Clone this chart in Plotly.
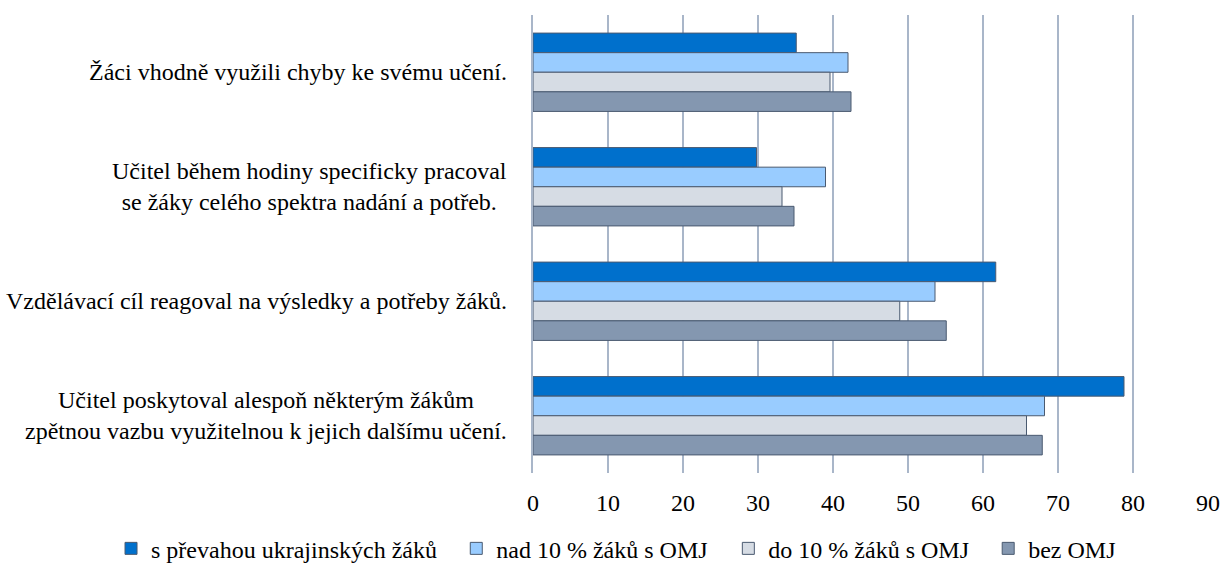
import plotly.graph_objects as go

categories = [
    "Žáci vhodně využili chyby ke svému učení.",
    "Učitel během hodiny specificky pracoval<br>se žáky celého spektra nadání a potřeb.",
    "Vzdělávací cíl reagoval na výsledky a potřeby žáků.",
    "Učitel poskytoval alespoň některým žákům<br>zpětnou vazbu využitelnou k jejich dalšímu učení.",
]
series_names = [
    "s převahou ukrajinských žáků",
    "nad 10 % žáků s OMJ",
    "do 10 % žáků s OMJ",
    "bez OMJ",
]
values_ukr = [35.1, 29.8, 61.7, 78.8]
values_nad10 = [42.0, 39.0, 53.6, 68.2]
values_do10 = [39.6, 33.2, 48.9, 65.8]
values_bez = [42.4, 34.8, 55.1, 67.9]
colors = ["#0070CC", "#99CCFF", "#D6DCE4", "#8497B0"]
tick_vals = [0, 10, 20, 30, 40, 50, 60, 70, 80, 90]

all_values = [values_ukr, values_nad10, values_do10, values_bez]
legend_ids = ["legend", "legend2", "legend3", "legend4"]
legend_x = [0.091, 0.374, 0.597, 0.810]

FONT = "Liberation Serif"

fig = go.Figure()
for name, vals, col, lid in zip(series_names, all_values, colors, legend_ids):
    fig.add_trace(go.Bar(
        y=categories, x=vals, name=name, orientation="h", legend=lid,
        marker=dict(color=col, line=dict(color="#4A5A70", width=1)),
    ))

for cat in categories:
    fig.add_annotation(
        x=0, xref="paper", y=cat, yref="y", text=cat, showarrow=False,
        xanchor="right", yanchor="middle", align="center", xshift=-24,
        font=dict(family=FONT, size=24, color="#000000"),
    )

legend_common = dict(orientation="h", xref="container", yref="container", y=0.027,
                     xanchor="left", yanchor="middle",
                     font=dict(family=FONT, size=24, color="#000000"),
                     itemwidth=30, bgcolor="rgba(0,0,0,0)")

fig.update_layout(
    width=1220, height=564,
    barmode="group", bargap=0.316, bargroupgap=0,
    plot_bgcolor="white", paper_bgcolor="white",
    margin=dict(l=533, r=12, t=15, b=91, autoexpand=False),
    font=dict(family=FONT, color="#000000", size=24),
    xaxis=dict(range=[0, 90], tickvals=tick_vals, showgrid=True, gridcolor="#A9B6C9",
               gridwidth=1.5, zeroline=False, showline=False, ticks="",
               ticklabelstandoff=13, tickfont=dict(family=FONT, size=24)),
    yaxis=dict(autorange="reversed", showline=True, linecolor="#A9B6C9", linewidth=1.5,
               ticks="", showticklabels=False),
    legend=dict(x=legend_x[0], **legend_common),
    legend2=dict(x=legend_x[1], **legend_common),
    legend3=dict(x=legend_x[2], **legend_common),
    legend4=dict(x=legend_x[3], **legend_common),
    showlegend=True,
)

fig.write_html(
    "out.html",
    config={"displayModeBar": False},
    post_script="document.body.style.margin='0';document.body.style.overflow='hidden';",
)
